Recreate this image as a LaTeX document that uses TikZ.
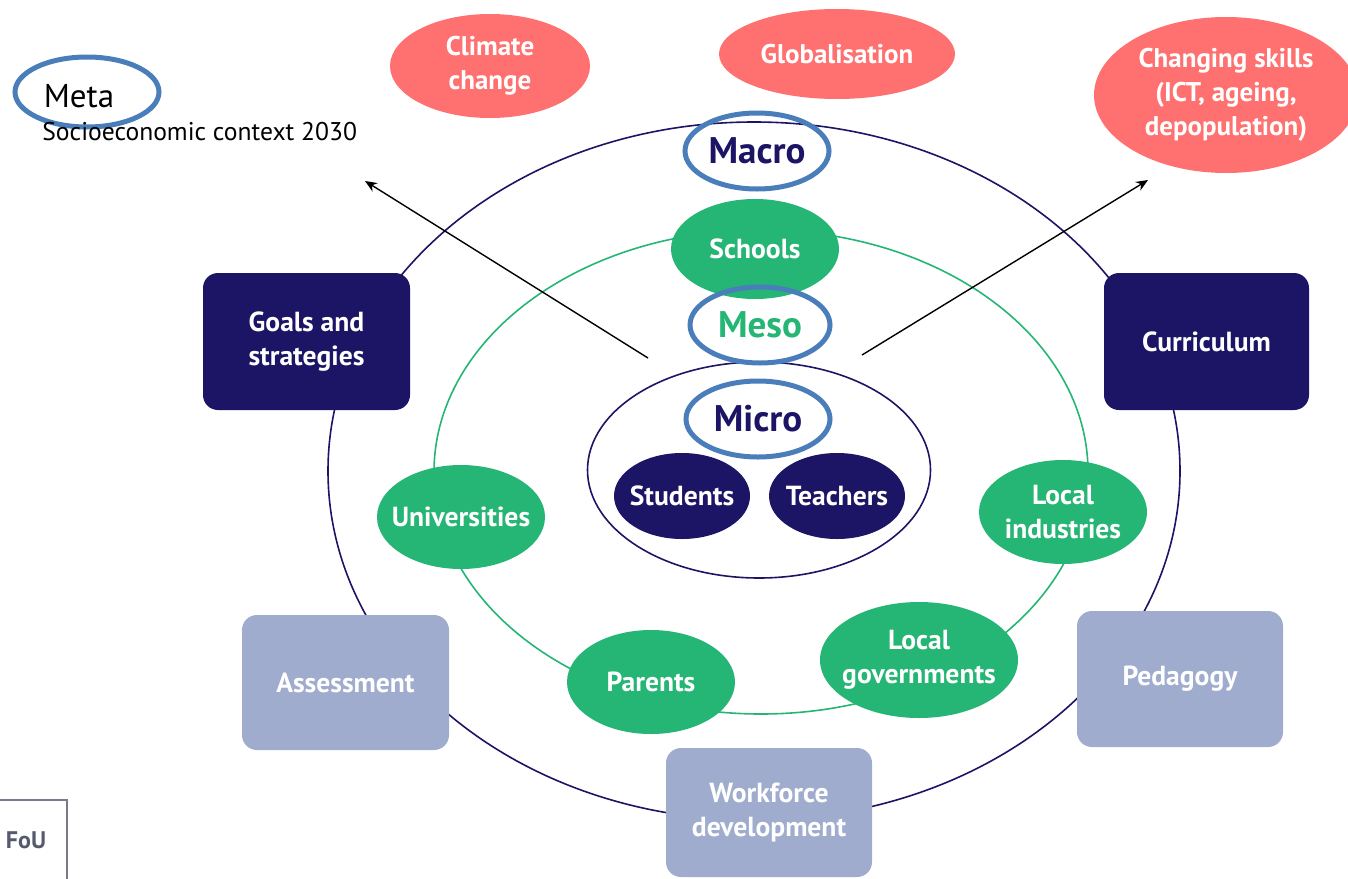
\documentclass[tikz,border=0pt]{standalone}
\usepackage{fontspec}
\setmainfont{PT Sans}
\usetikzlibrary{shapes.geometric,arrows.meta}
\definecolor{navy}{HTML}{1C1464}
\definecolor{grn}{HTML}{25B574}
\definecolor{salmon}{HTML}{FF7070}
\definecolor{lightbox}{HTML}{9FACCE}
\definecolor{ringblue}{HTML}{4A7EBB}
\definecolor{fougray}{HTML}{555A6E}
\tikzset{
  ring/.style={ellipse, draw=ringblue, line width=2.5pt, inner sep=-20pt},
  layer/.style={ellipse, inner sep=0pt, line width=0.8pt},
  greennode/.style={ellipse, fill=grn, text=white, inner sep=-20pt, align=center,
    font=\bfseries\fontsize{13.8}{17}\selectfont},
  navynode/.style={ellipse, fill=navy, text=white, inner sep=-20pt, align=center,
    font=\bfseries\fontsize{13.8}{17}\selectfont},
  salmonnode/.style={ellipse, fill=salmon, text=white, inner sep=-20pt, align=center,
    font=\bfseries\fontsize{13.5}{17}\selectfont},
  darkbox/.style={rectangle, rounded corners=7.5pt, fill=navy, text=white, inner sep=0pt,
    align=center, font=\bfseries\fontsize{13.8}{17}\selectfont},
  palebox/.style={rectangle, rounded corners=7.5pt, fill=lightbox, text=white, inner sep=0pt,
    align=center, font=\bfseries\fontsize{13.8}{17}\selectfont},
  levellabel/.style={font=\bfseries\fontsize{18.5}{20}\selectfont},
  arrowline/.style={draw=black, line width=0.7pt, -{Stealth[length=6pt,width=5pt]}},
}
\begin{document}
\begin{tikzpicture}[x=0.5pt,y=-0.5pt]
\useasboundingbox (0,0) rectangle (1348,878);
% layers
\node[layer, draw=navy, minimum width=426pt, minimum height=349pt] (outer) at (754,471) {};
\node[layer, draw=grn, minimum width=327pt, minimum height=242pt] (middle) at (761,472) {};
\node[layer, draw=navy, minimum width=171.5pt, minimum height=108pt] (inner) at (759,470) {};
% external factors
\node[salmonnode, minimum width=100pt, minimum height=52pt] (climate) at (490,66) {Climate\\change};
\node[salmonnode, minimum width=118pt, minimum height=45pt] (global) at (837,54) {Globalisation};
\node[salmonnode, minimum width=132pt, minimum height=78pt] (skills) at (1226,95) {Changing skills\\(ICT, ageing,\\depopulation)};
% meta
\node[ring, minimum width=72pt, minimum height=35pt] (metaring) at (87,92) {};
\node[font=\fontsize{16.5}{18}\selectfont, inner sep=0pt] (meta) at (79,96) {Meta};
\node[anchor=west, font=\fontsize{12.8}{15}\selectfont, inner sep=0pt] (socio) at (42,132) {Socioeconomic context 2030};
% boxes
\node[darkbox, minimum width=103.5pt, minimum height=68.5pt] (goals) at (306.5,341.5) {Goals and\\strategies};
\node[darkbox, minimum width=102.5pt, minimum height=68.5pt] (curr) at (1206.5,341.5) {Curriculum};
\node[palebox, minimum width=103.5pt, minimum height=67.5pt] (assess) at (345.5,682.5) {Assessment};
\node[palebox, minimum width=103pt, minimum height=68pt] (pedag) at (1180,679) {Pedagogy};
\node[palebox, minimum width=103pt, minimum height=64.5pt] (work) at (769,812.5) {Workforce\\development};
% meso actors
\node[greennode, minimum width=84pt, minimum height=50pt] (schools) at (755,249) {Schools};
\node[greennode, minimum width=84pt, minimum height=52pt] (univ) at (461,517) {Universities};
\node[greennode, minimum width=84pt, minimum height=52pt] (parents) at (651,682) {Parents};
\node[greennode, minimum width=99pt, minimum height=58pt] (locgov) at (919,660) {Local\\governments};
\node[greennode, minimum width=84pt, minimum height=52pt] (locind) at (1063,512) {Local\\industries};
% micro actors
\node[navynode, minimum width=68pt, minimum height=43pt] (students) at (682,496) {Students};
\node[navynode, minimum width=68pt, minimum height=43pt] (teachers) at (837,496) {Teachers};
% level labels
\node[ring, levellabel, text=navy, minimum width=72pt, minimum height=38pt] (macro) at (757,151) {Macro};
\node[ring, levellabel, text=grn, minimum width=70pt, minimum height=38pt] (meso) at (760,325) {Meso};
\node[ring, levellabel, text=navy, minimum width=72pt, minimum height=38pt] (micro) at (758,419) {Micro};
% arrows
\coordinate (a1s) at (648,358);
\coordinate (a1e) at (365,181);
\coordinate (a2s) at (862,355);
\coordinate (a2e) at (1148,180);
\draw[arrowline] (a1s) -- (a1e);
\draw[arrowline] (a2s) -- (a2e);
% FoU
\draw[draw=fougray!80, line width=0.6pt] (-5,800) rectangle (67,890);
\node[text=fougray, font=\bfseries\fontsize{12}{14}\selectfont] (fou) at (26,840) {FoU};
\end{tikzpicture}
\end{document}
